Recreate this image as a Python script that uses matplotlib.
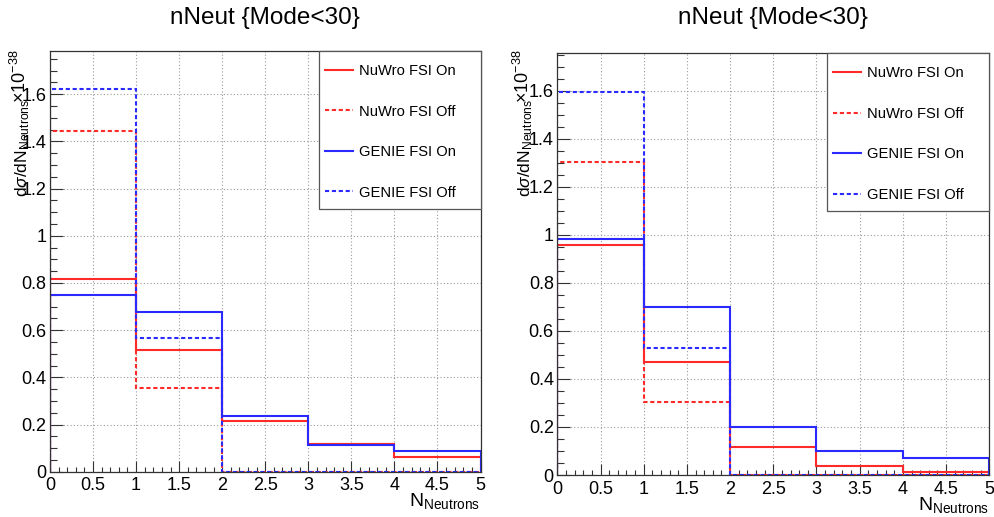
import numpy as np
import matplotlib
matplotlib.use("Agg")
import matplotlib.pyplot as plt
from matplotlib.patches import Rectangle
from matplotlib.ticker import MultipleLocator, FuncFormatter

plt.rcParams["font.family"] = ["Liberation Sans", "DejaVu Sans"]
plt.rcParams["mathtext.fontset"] = "custom"
plt.rcParams["mathtext.rm"] = "Liberation Sans"
plt.rcParams["mathtext.it"] = "Liberation Sans:italic"

# bin edges in number of neutrons
edges = [0, 1, 2, 3, 4, 5]
labels = ["NuWro FSI On", "NuWro FSI Off", "GENIE FSI On", "GENIE FSI Off"]
title = "nNeut {Mode<30}"

# left panel (x1e-38)
left_nuwro_on = [0.817, 0.516, 0.215, 0.117, 0.064]
left_nuwro_off = [1.445, 0.354, 0.0, 0.0, 0.0]
left_genie_on = [0.749, 0.676, 0.235, 0.114, 0.089]
left_genie_off = [1.621, 0.566, 0.0, 0.0, 0.0]

# right panel (x1e-38)
right_nuwro_on = [0.960, 0.471, 0.116, 0.037, 0.011]
right_nuwro_off = [1.302, 0.303, 0.0, 0.0, 0.0]
right_genie_on = [0.984, 0.700, 0.201, 0.098, 0.069]
right_genie_off = [1.597, 0.527, 0.0, 0.0, 0.0]

W, H = 994, 517
RED = "#ff2a2a"
BLUE = "#2a2aff"
DASH = (0, (2, 1.3))


def px_axes(fig, x0, y0, x1, y1):
    # pixel box (top-left origin) -> figure fraction
    return fig.add_axes([x0 / W, 1 - y1 / H, (x1 - x0) / W, (y1 - y0) / H])


def draw_panel(fig, box, series, ylab_x, exp_x):
    ax = px_axes(fig, *box)
    styles = [(RED, "-"), (RED, DASH), (BLUE, "-"), (BLUE, DASH)]
    for vals, (c, ls), lab in zip(series, styles, labels):
        ax.stairs(vals, edges, color=c, linestyle=ls, linewidth=1.5, label=lab)

    ymax = 1.1 * max(max(s) for s in series)
    ax.set_xlim(0, 5)
    ax.set_ylim(0, ymax)

    ax.xaxis.set_major_locator(MultipleLocator(0.5))
    ax.xaxis.set_minor_locator(MultipleLocator(0.1))
    ax.yaxis.set_major_locator(MultipleLocator(0.2))
    ax.yaxis.set_minor_locator(MultipleLocator(0.05))
    fmt = FuncFormatter(lambda v, p: "%g" % round(v, 3))
    ax.xaxis.set_major_formatter(fmt)
    ax.yaxis.set_major_formatter(fmt)

    ax.tick_params(axis="x", which="major", direction="in", length=8, width=0.8,
                   pad=4, labelsize=13, color="#333333")
    ax.tick_params(axis="x", which="minor", direction="in", length=3.6, width=0.8,
                   color="#333333")
    ax.tick_params(axis="y", which="major", direction="in", length=9.4, width=0.8,
                   pad=2.5, labelsize=13, color="#333333")
    ax.tick_params(axis="y", which="minor", direction="in", length=5, width=0.8,
                   color="#333333")

    ax.grid(which="major", color="#9a9a9a", linestyle=(0, (1, 2)), linewidth=0.8)
    ax.set_axisbelow(True)
    for sp in ax.spines.values():
        sp.set_color("#333333")
        sp.set_linewidth(0.9)

    # legend box in the upper right corner, entries placed inside it
    ax.add_patch(Rectangle((0.625, 0.625), 0.375, 0.375, transform=ax.transAxes,
                           facecolor="white", edgecolor="#555555", linewidth=0.9,
                           zorder=4, clip_on=False))
    leg = ax.legend(loc="upper left", bbox_to_anchor=(0.638, 0.969),
                    fontsize=10.6, frameon=False, handlelength=1.9,
                    handletextpad=0.42, labelspacing=1.8, borderpad=0,
                    borderaxespad=0)
    leg.set_zorder(5)

    x0, y0, x1, y1 = box
    cx = (x0 + x1) / 2
    fig.text(cx / W, 1 - 24 / H, title, ha="center", va="baseline", fontsize=17.5)

    ax.text(1.0, -0.047, r"N$_{\mathrm{Neutrons}}$", transform=ax.transAxes,
            ha="right", va="top", fontsize=14)
    fig.text(ylab_x / W, 1 - 99 / H, r"d$\sigma$/dN$_{\mathrm{Neutrons}}$",
             rotation=90, ha="center", va="top", fontsize=12.5)
    fig.text(exp_x / W, 1 - 50 / H, r"$\times$10$^{-38}$",
             rotation=90, ha="center", va="top", fontsize=13)
    return ax


fig = plt.figure(figsize=(W / 100, H / 100), dpi=100)

draw_panel(fig, (50, 51, 480.5, 471.7),
           [left_nuwro_on, left_nuwro_off, left_genie_on, left_genie_off],
           ylab_x=23, exp_x=20)
draw_panel(fig, (557.3, 53.3, 989.3, 475),
           [right_nuwro_on, right_nuwro_off, right_genie_on, right_genie_off],
           ylab_x=526, exp_x=523)

fig.savefig("out.png", dpi=100)
